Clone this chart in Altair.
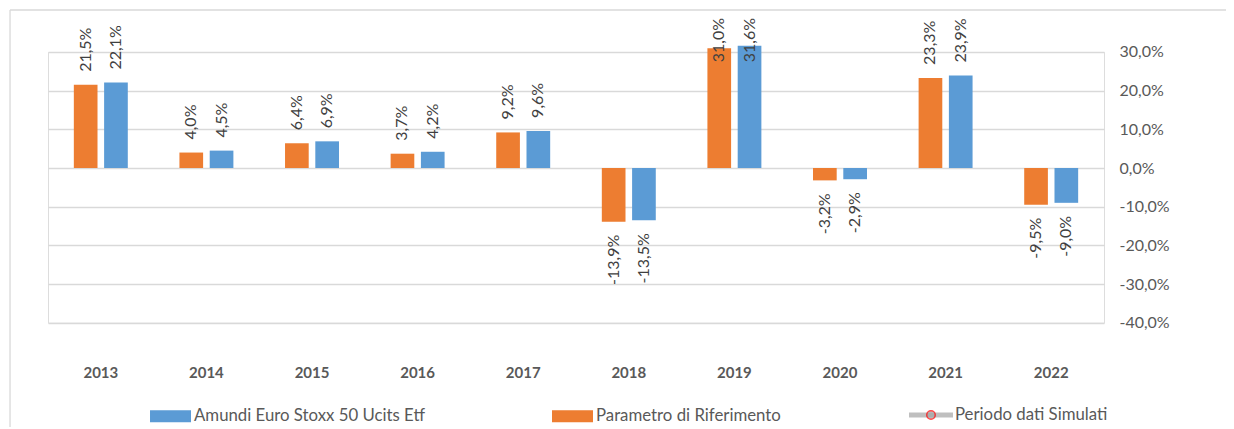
import altair as alt
import pandas as pd

years = ["2013", "2014", "2015", "2016", "2017", "2018", "2019", "2020", "2021", "2022"]
amundi = [22.1, 4.5, 6.9, 4.2, 9.6, -13.5, 31.6, -2.9, 23.9, -9.0]
param = [21.5, 4.0, 6.4, 3.7, 9.2, -13.9, 31.0, -3.2, 23.3, -9.5]
s_amundi = "Amundi Euro Stoxx 50 Ucits Etf"
s_param = "Parametro di Riferimento"
s_sim = "Periodo dati Simulati"
y_ticks = [30, 20, 10, 0, -10, -20, -30, -40]

rows = []
for i, y in enumerate(years):
    rows.append({"year": y, "series": s_param, "v": param[i]})
    rows.append({"year": y, "series": s_amundi, "v": amundi[i]})
df = pd.DataFrame(rows)

FONT = "Lato"
BLUE = "#5B9BD5"
ORANGE = "#ED7D31"
GRAY = "#A5A5A5"
LEG_FS = 16.8

x_axis = alt.Axis(labelAngle=0, labelFontWeight="bold", labelFontSize=15,
                  labelColor="#595959", labelFont=FONT, labelPadding=43,
                  ticks=False, domain=False, grid=False)
x_scale = alt.Scale(paddingInner=0.489, paddingOuter=0.2445)
xo_scale = alt.Scale(paddingInner=0.218, paddingOuter=0)
y_scale = alt.Scale(domain=[-40, 30], nice=False, zero=False)
y_axis = alt.Axis(orient="right", values=y_ticks, grid=True, gridColor="#D9D9D9",
                  gridWidth=1.3, ticks=False, domain=False, labelFont=FONT,
                  labelFontSize=16, labelColor="#595959", labelPadding=15,
                  labelOverlap=False, title=None,
                  labelExpr="replace(replace(format(datum.value, '.1f'), '.', ','), '\u2212', '-') + '%'")


def X():
    return alt.X("year:N", sort=years, title=None, scale=x_scale, axis=x_axis)


def XO():
    return alt.XOffset("series:N", sort=[s_param, s_amundi], scale=xo_scale)


def Y(field):
    return alt.Y(field, title=None, scale=y_scale, axis=y_axis)


rect_path = "M-1,-0.293H1V0.293H-1Z"

bars = alt.Chart(df).mark_bar().encode(
    x=X(), xOffset=XO(), y=Y("v:Q"),
    color=alt.Color("series:N",
                    scale=alt.Scale(domain=[s_amundi, s_param], range=[BLUE, ORANGE]),
                    legend=alt.Legend(title=None, orient="none", legendX=101, legendY=342.5,
                                      direction="horizontal", symbolType=rect_path,
                                      symbolSize=1681, labelFont=FONT, labelFontSize=LEG_FS,
                                      labelColor="#595959", labelOffset=2, columnPadding=126,
                                      padding=0, labelLimit=400)),
)

base_txt = alt.Chart(df).transform_calculate(
    lab="replace(replace(format(datum.v, '.1f'), '.', ','), '\u2212', '-') + '%'",
    ly="min(datum.v, 24)",
)
txt_pos = base_txt.transform_filter("datum.v >= 0").mark_text(
    angle=270, align="left", baseline="middle", dx=13, font=FONT, fontSize=16, color="#404040"
).encode(x=X(), xOffset=XO(), y=Y("ly:Q"), text="lab:N")
txt_neg = base_txt.transform_filter("datum.v < 0").mark_text(
    angle=270, align="right", baseline="middle", dx=-13, font=FONT, fontSize=16, color="#404040"
).encode(x=X(), xOffset=XO(), y=Y("ly:Q"), text="lab:N")

dummy = pd.DataFrame([{"year": "2013", "v": None, "sim1": s_sim, "sim2": " "}])
sim_line = alt.Chart(dummy).mark_point(color=GRAY, strokeWidth=5, filled=False).encode(
    x=X(), y=Y("v:Q"),
    shape=alt.Shape("sim1:N", scale=alt.Scale(domain=[s_sim], range=["M-1.023,0H1.023"]),
                    legend=alt.Legend(title=None, orient="none", legendX=859, legendY=339,
                                      symbolSize=1849, symbolStrokeWidth=5,
                                      symbolStrokeColor=GRAY, labelFont=FONT, labelFontSize=LEG_FS,
                                      labelColor="#595959", labelOffset=0, padding=0,
                                      labelLimit=400)),
)
sim_dot = alt.Chart(dummy).mark_point(filled=True, fill=GRAY, stroke="#FF0000", strokeWidth=1.5).encode(
    x=X(), y=Y("v:Q"),
    fill=alt.Fill("sim2:N", scale=alt.Scale(domain=[" "], range=[GRAY]),
                  legend=alt.Legend(title=None, orient="none", legendX=878, legendY=358,
                                    symbolType="circle", symbolSize=72,
                                    symbolStrokeColor="#FF0000", symbolStrokeWidth=1.5,
                                    symbolFillColor=GRAY, labelFontSize=1, padding=0)),
)

frame_data = alt.Data(values=[{"a": 1}])
frame_top = alt.Chart(frame_data).mark_rule(color="#D9D9D9", strokeWidth=1.3).encode(
    x=alt.value(-38), x2=alt.value(1300), y=alt.value(-42))
frame_left = alt.Chart(frame_data).mark_rule(color="#D9D9D9", strokeWidth=1.3).encode(
    x=alt.value(-38), y=alt.value(-42), y2=alt.value(400))

chart = alt.layer(frame_top, frame_left, bars, txt_pos, txt_neg, sim_line, sim_dot).properties(
    width=1056, height=270.7,
    autosize=alt.AutoSizeParams(type="none"),
    padding={"left": 40, "top": 44, "right": 122, "bottom": 104},
).configure_view(stroke=None).configure(background="white")

chart.save("out.html", embed_options={"renderer": "svg", "actions": False})
